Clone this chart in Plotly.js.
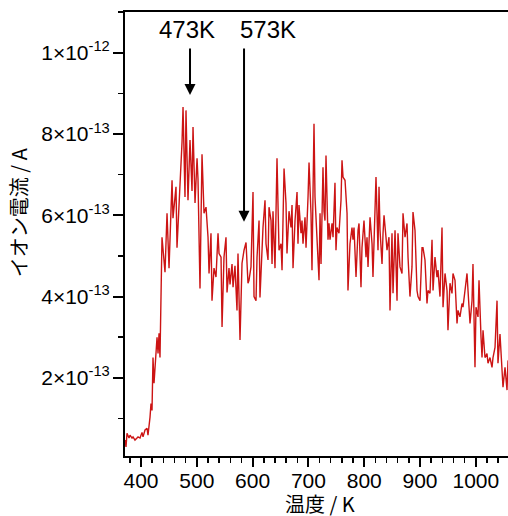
<!DOCTYPE html>
<html>
<head>
<meta charset="utf-8">
<script src="https://cdn.plot.ly/plotly-3.0.1.min.js"></script>
<style>
  html, body { margin: 0; padding: 0; overflow: hidden; background: #fff; }
  #chart { width: 530px; height: 516px; }
</style>
</head>
<body>
<div id="chart"></div>
<script>
// Temperature-programmed desorption: ion current vs. temperature
const temperatureK = [
  371.3, 373.1, 374.9, 378.5, 380.3, 383.9, 385.7, 389.2, 392.8, 394.6,
  398.2, 401.8, 403.6, 407.2, 410.8, 412.5, 416.1, 417.9, 419.7, 421.5,
  423.3, 425.1, 428.7, 430.5, 432.3, 434.0, 435.8, 437.6, 443.0, 446.6,
  450.2, 455.6, 457.3, 462.7, 464.5, 469.9, 473.5, 475.3, 478.8, 480.6,
  484.2, 487.8, 491.4, 493.2, 496.8, 500.4, 502.1, 505.7, 509.3, 512.9,
  516.5, 520.1, 521.9, 525.4, 527.2, 530.8, 534.4, 538.0, 539.8, 543.4,
  545.2, 548.7, 552.3, 554.1, 557.7, 559.5, 563.1, 564.9, 568.4, 572.0,
  573.8, 577.4, 579.2, 581.0, 584.6, 588.2, 591.7, 593.5, 597.1, 600.7,
  602.5, 606.1, 607.9, 611.5, 613.2, 616.8, 618.6, 622.2, 624.0, 627.6,
  629.4, 633.0, 634.8, 636.5, 640.1, 643.7, 647.3, 650.9, 652.7, 656.3,
  659.8, 661.6, 665.2, 668.8, 670.6, 672.4, 676.0, 679.6, 681.3, 683.1,
  686.7, 688.5, 690.3, 693.9, 695.7, 699.3, 701.1, 704.6, 706.4, 708.2,
  710.0, 711.8, 713.6, 717.2, 719.0, 720.8, 722.6, 726.1, 727.9, 729.7,
  731.5, 735.1, 736.9, 738.7, 742.3, 744.1, 747.6, 749.4, 751.2, 754.8,
  758.4, 760.2, 762.0, 765.6, 769.2, 770.9, 774.5, 778.1, 779.9, 781.7,
  785.3, 788.9, 790.7, 794.2, 796.0, 799.6, 803.2, 805.0, 806.8, 810.4,
  814.0, 815.7, 819.3, 821.1, 824.7, 826.5, 828.3, 831.9, 833.7, 835.5,
  839.0, 840.8, 844.4, 846.2, 849.8, 851.6, 855.2, 858.8, 860.5, 864.1,
  867.7, 869.5, 873.1, 876.7, 878.5, 882.0, 885.6, 887.4, 891.0, 894.6,
  896.4, 900.0, 903.6, 905.3, 908.9, 912.5, 914.3, 917.9, 921.5, 923.3,
  926.8, 930.4, 932.2, 935.8, 939.4, 941.2, 944.8, 948.4, 950.1, 953.7,
  957.3, 959.1, 962.7, 966.3, 968.1, 971.6, 975.2, 977.0, 980.6, 984.2,
  986.0, 989.6, 993.2, 994.9, 998.5, 1000.3, 1003.9, 1005.7, 1009.3, 1011.1,
  1012.9, 1016.4, 1020.0, 1021.8, 1025.4, 1029.0, 1030.8, 1034.4, 1038.0, 1039.7,
  1043.3, 1046.9, 1048.7, 1052.3, 1055.9, 1057.7, 1061.2, 1064.8
];

// ion current in units of 1e-13 A
const currentE13 = [
  0.47, 0.30, 0.64, 0.52, 0.59, 0.52, 0.55, 0.47, 0.52, 0.55,
  0.52, 0.66, 0.55, 0.72, 0.76, 0.59, 1.03, 1.37, 1.20, 2.50,
  1.87, 2.20, 3.00, 2.60, 3.10, 2.50, 4.00, 5.46, 4.60, 6.05,
  4.70, 6.86, 5.93, 6.70, 5.20, 6.70, 7.80, 8.66, 6.45, 8.58,
  6.37, 7.85, 6.60, 8.17, 6.30, 7.40, 6.90, 4.20, 7.50, 6.05,
  6.20, 5.46, 4.57, 5.56, 3.90, 4.70, 4.48, 5.56, 5.06, 4.97,
  3.25, 4.97, 5.46, 4.10, 4.70, 4.30, 4.80, 4.23, 4.76, 3.66,
  5.06, 2.93, 4.33, 4.82, 5.14, 5.33, 4.33, 4.40, 4.73, 6.57,
  4.00, 3.90, 4.97, 5.87, 3.98, 5.14, 5.70, 6.37, 5.30, 4.90,
  6.20, 5.87, 4.80, 6.10, 4.70, 7.40, 5.14, 5.30, 4.65, 7.15,
  6.30, 5.06, 6.10, 5.70, 6.25, 4.70, 5.87, 6.57, 5.30, 6.25,
  5.56, 5.87, 5.30, 5.95, 5.20, 6.45, 7.30, 6.05, 4.65, 6.53,
  8.25, 6.45, 5.87, 4.80, 4.40, 6.05, 4.80, 7.18, 6.10, 5.87,
  7.47, 5.40, 5.80, 5.40, 5.80, 5.46, 6.80, 5.14, 5.70, 5.56,
  6.37, 7.35, 6.94, 6.86, 6.05, 4.15, 5.30, 5.70, 5.40, 5.70,
  4.48, 5.63, 5.80, 4.23, 5.20, 5.87, 4.97, 5.46, 4.73, 5.95,
  5.30, 4.48, 6.30, 6.94, 5.14, 6.70, 5.63, 4.80, 5.56, 6.00,
  5.46, 5.14, 5.46, 3.66, 5.56, 4.08, 5.63, 3.90, 5.56, 4.73,
  4.57, 6.05, 5.46, 5.80, 4.97, 4.00, 4.73, 6.08, 5.63, 4.15,
  4.00, 3.90, 5.20, 5.20, 4.90, 3.83, 4.15, 4.08, 5.40, 4.15,
  4.97, 4.48, 4.65, 4.00, 5.70, 3.74, 4.57, 4.15, 3.17, 4.33,
  4.08, 4.57, 4.40, 3.34, 3.66, 3.50, 3.83, 3.74, 4.15, 4.57,
  4.15, 3.34, 3.90, 4.80, 2.26, 3.74, 3.50, 4.40, 3.00, 2.50,
  3.17, 2.50, 2.60, 2.36, 2.50, 2.26, 2.50, 2.75, 3.90, 2.36,
  3.08, 2.00, 1.77, 2.26, 1.70, 2.43, 2.00, 2.30
];

const yTickVals = [2e-13, 4e-13, 6e-13, 8e-13, 1e-12];
const yTickText = ['2×10<sup>-13</sup>', '4×10<sup>-13</sup>', '6×10<sup>-13</sup>',
                   '8×10<sup>-13</sup>', '1×10<sup>-12</sup>'];

// marked desorption peaks: label, arrow x (K), arrow tip current (A)
const peakLabels = ['473K', '573K'];
const peakArrowX = [487.8, 584.6];
const peakArrowTip = [8.96e-13, 5.84e-13];
const labelX = [483, 628];
const arrowTop = 10.14e-13;

const currentA = currentE13.map(v => v * 1e-13);

const numFont = 'Liberation Sans, Arial, sans-serif';
const cjkFont = 'Noto Sans CJK JP, Liberation Sans, sans-serif';

const trace = {
  x: temperatureK,
  y: currentA,
  type: 'scatter',
  mode: 'lines',
  line: { color: '#cc1414', width: 1.4 },
  hoverinfo: 'skip'
};

const annotations = [];
peakLabels.forEach((lab, i) => {
  annotations.push({
    x: labelX[i], y: 10.57e-13, xref: 'x', yref: 'y',
    text: lab, showarrow: false,
    font: { family: numFont, size: 24, color: '#000' },
    xanchor: 'center', yanchor: 'middle'
  });
  annotations.push({
    x: peakArrowX[i], y: peakArrowTip[i], xref: 'x', yref: 'y',
    ax: peakArrowX[i], ay: arrowTop, axref: 'x', ayref: 'y',
    text: '', showarrow: true,
    arrowhead: 2, arrowsize: 1.1, arrowwidth: 2, arrowcolor: '#000',
    standoff: 0, startstandoff: 0
  });
});

annotations.push({
  x: 0.5, y: -0.108, xref: 'paper', yref: 'paper',
  text: '温度 / K', showarrow: false,
  font: { family: cjkFont, size: 20, color: '#000' },
  xanchor: 'center', yanchor: 'middle'
});
annotations.push({
  x: -0.274, y: 0.5495, xref: 'paper', yref: 'paper',
  text: 'イオン電流 / A', showarrow: false, textangle: -90,
  font: { family: cjkFont, size: 20, color: '#000' },
  xanchor: 'center', yanchor: 'middle'
});

const layout = {
  width: 530,
  height: 516,
  margin: { l: 125, r: 15, t: 12, b: 60 },
  paper_bgcolor: '#fff',
  plot_bgcolor: '#fff',
  showlegend: false,
  font: { family: numFont, size: 21, color: '#000' },
  xaxis: {
    range: [371.3, 1070.2],
    tickmode: 'linear', tick0: 400, dtick: 100,
    ticks: 'outside', ticklen: 9, tickwidth: 2, tickcolor: '#000',
    ticklabelstandoff: -4,
    minor: { tickmode: 'linear', tick0: 380, dtick: 20, ticks: 'outside', ticklen: 5, tickwidth: 1.5, tickcolor: '#000' },
    showline: true, linecolor: '#000', linewidth: 2, mirror: true,
    showgrid: false, zeroline: false,
    tickfont: { family: numFont, size: 21, color: '#000' }
  },
  yaxis: {
    range: [7.9e-15, 1.10e-12],
    tickmode: 'array', tickvals: yTickVals, ticktext: yTickText,
    ticks: 'outside', ticklen: 10, tickwidth: 2, tickcolor: '#000',
    ticklabelstandoff: -1,
    minor: { tickmode: 'linear', tick0: 1e-13, dtick: 1e-13, ticks: 'outside', ticklen: 5, tickwidth: 1.5, tickcolor: '#000' },
    showline: true, linecolor: '#000', linewidth: 2,
    showgrid: false, zeroline: false,
    tickfont: { family: numFont, size: 21, color: '#000' }
  },
  annotations: annotations
};

Plotly.newPlot('chart', [trace], layout, { staticPlot: true, displayModeBar: false });
</script>
</body>
</html>
